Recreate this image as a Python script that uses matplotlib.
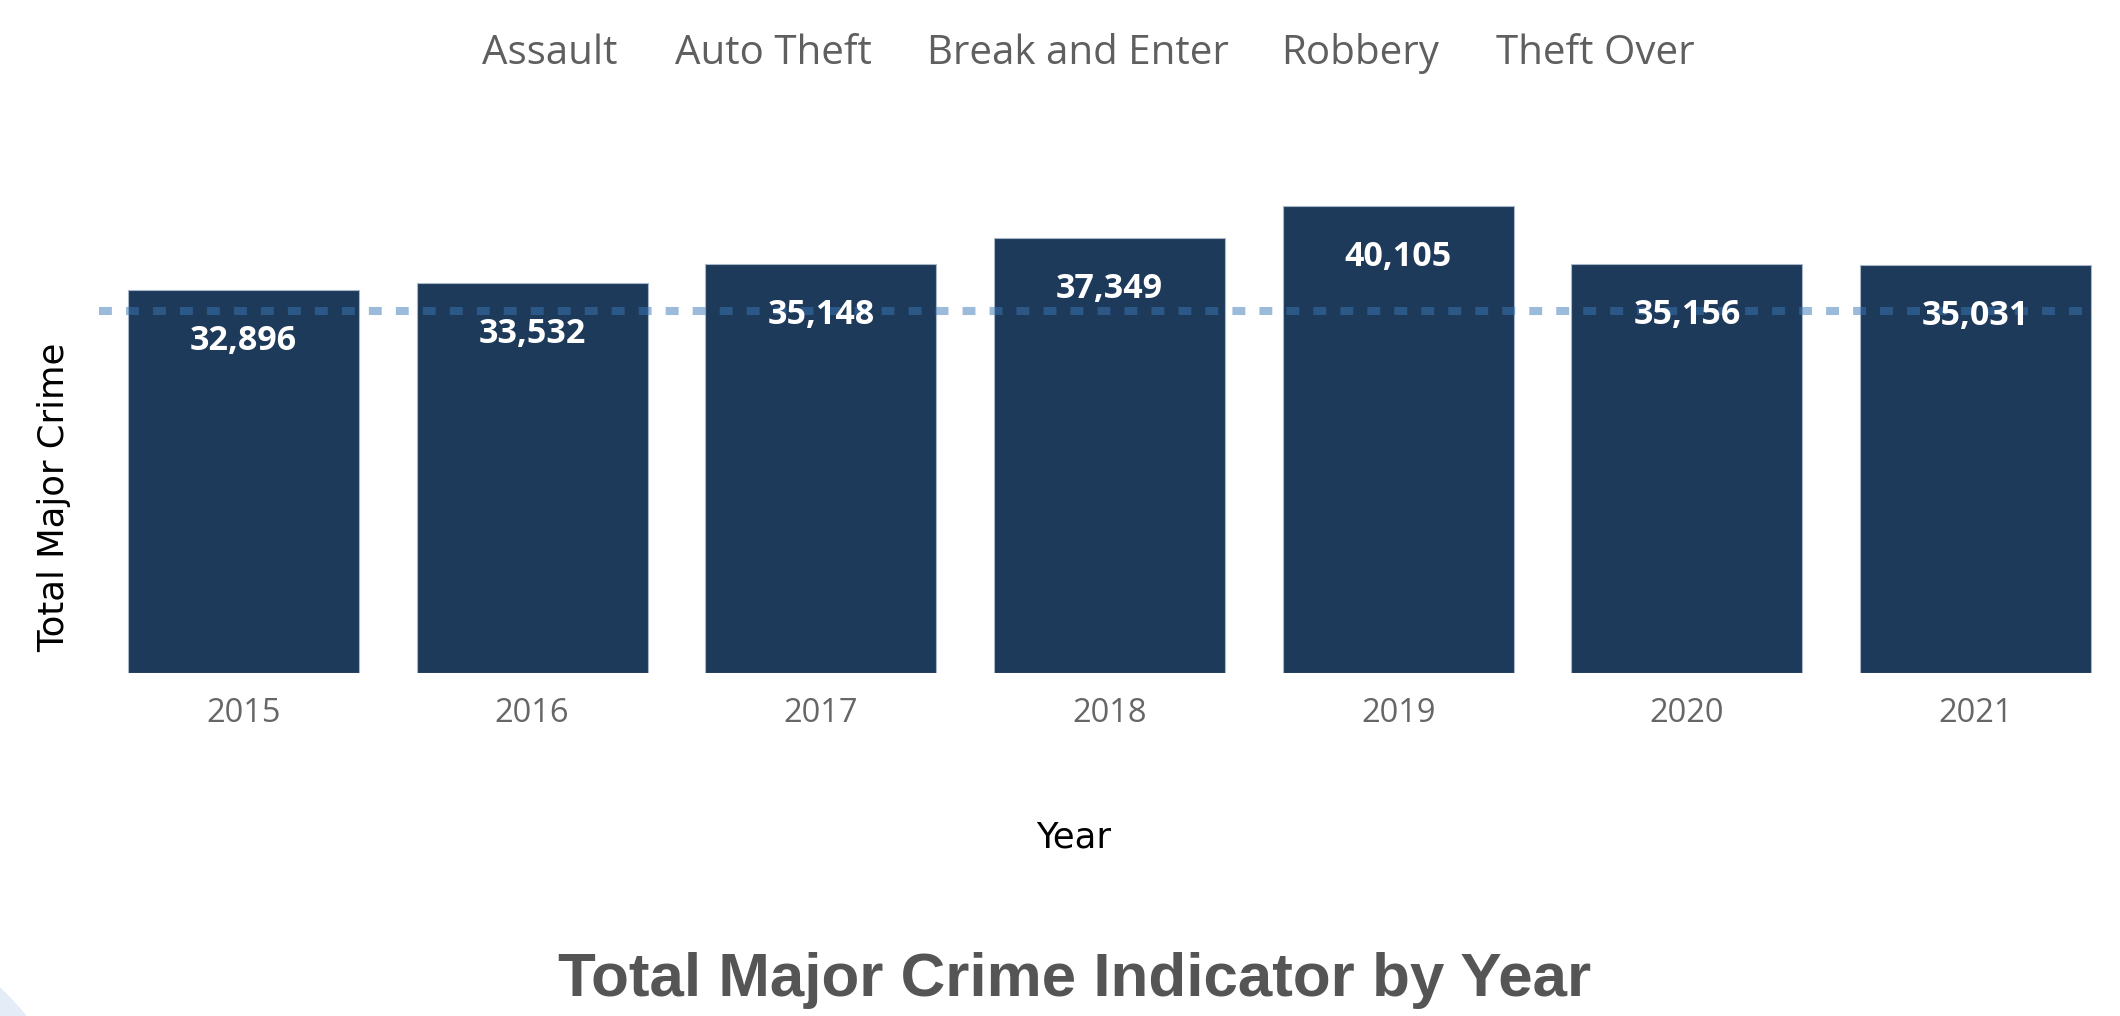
import matplotlib.pyplot as plt
from matplotlib.patches import Circle

# data
years = ["2015", "2016", "2017", "2018", "2019", "2020", "2021"]
totals = [32896, 33532, 35148, 37349, 40105, 35156, 35031]
ref_value = 31100  # dashed reference line
categories = ["Assault", "Auto Theft", "Break and Enter", "Robbery", "Theft Over"]

BAR = "#1e3a5a"
W, H = 2120, 1016

fig = plt.figure(figsize=(W / 100, H / 100), dpi=100)
fig.patch.set_facecolor("white")

# light decorative arc in the bottom-left corner
fig.add_artist(Circle((-2.0, -1.84), 2.92, transform=fig.dpi_scale_trans,
                      facecolor="#e4ecf8", edgecolor="none", zorder=0))

ax = fig.add_axes([99 / W, 1 - 673 / H, (W - 99) / W, (673 - 149) / H])
ax.set_facecolor("none")

x = range(len(years))
bars = ax.bar(x, totals, width=0.8, color=BAR, edgecolor="#a9b8c8", linewidth=0.8, zorder=2)
ax.set_xlim(-0.5, 6.5)
ax.set_ylim(0, 45000)

# dashed reference line drawn over the bars
ax.axhline(ref_value, xmin=0, xmax=0.988, color="#3b77b7", alpha=0.5,
           linewidth=5.8, dashes=(1.6, 1.75), zorder=3)

for rect, v in zip(bars, totals):
    ax.annotate(f"{v:,}", (rect.get_x() + rect.get_width() / 2, v),
                xytext=(0, -37), textcoords="offset points",
                ha="center", va="center", color="white", fontsize=24.5,
                fontweight="bold", family="Open Sans", zorder=4)

ax.set_xticks(list(x))
ax.set_xticklabels(years, fontsize=23.5, color="#666666", family="Open Sans")
ax.tick_params(axis="x", length=0, pad=17)
ax.set_yticks([])
for s in ax.spines.values():
    s.set_visible(False)

# axis titles
fig.text(54 / W, 1 - 497 / H, "Total Major Crime", rotation=90, ha="center", va="center",
         fontsize=25.5, color="black", family="DejaVu Sans")
fig.text(1074 / W, 1 - 837 / H, "Year", ha="center", va="center",
         fontsize=25.5, color="black", family="DejaVu Sans")

# category labels along the top
cat_x = [550, 773, 1078, 1360, 1595]
for cx, name in zip(cat_x, categories):
    fig.text(cx / W, 1 - 64 / H, name, ha="center", va="baseline",
             fontsize=29, color="#5f5f5f", family="Open Sans")

fig.text(1075 / W, 1 - 996 / H, "Total Major Crime Indicator by Year", ha="center",
         va="baseline", fontsize=44.6, fontweight="bold", color="#555555",
         family="Liberation Sans")

fig.savefig("out.png", dpi=100, facecolor="white")
